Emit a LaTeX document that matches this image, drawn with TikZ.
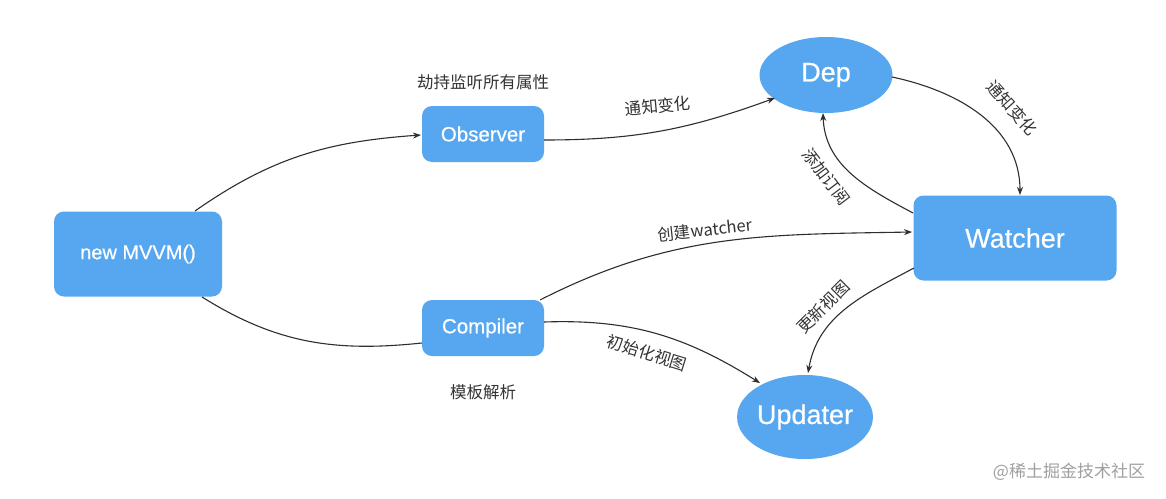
\documentclass[tikz,border=0pt]{standalone}
\usepackage{fontspec}
\setmainfont{Liberation Sans}
\newfontfamily\boxfont[FakeBold=0.6]{Liberation Sans}
\newfontfamily\cjk{Noto Sans CJK SC}
\usetikzlibrary{arrows.meta,shapes.geometric}
\definecolor{nodeblue}{HTML}{56A7EF}
\definecolor{edgegray}{HTML}{2E2E2E}
\definecolor{wmgray}{HTML}{A0A0A0}
\begin{document}
\begin{tikzpicture}[x=1pt,y=-1pt,
  boxnode/.style={draw=none,fill=nodeblue,rounded corners=10pt,text=white,inner sep=0pt},
  smallbox/.style={boxnode,minimum width=122pt,minimum height=56pt,font=\boxfont\fontsize{20.5}{24}\selectfont},
  ellnode/.style={ellipse,fill=nodeblue,text=white,inner sep=0pt,font=\boxfont\fontsize{27}{30}\selectfont},
  conn/.style={draw=edgegray,line width=1.1pt,-{Stealth[length=8pt,width=6pt]}},
  plainconn/.style={draw=edgegray,line width=1.1pt},
  lbl/.style={font=\cjk\fontsize{16.5}{19}\selectfont,text=black!80,inner sep=0pt},
]
\useasboundingbox (0,0) rectangle (1166,498);
\fill[white] (0,0) rectangle (1166,498);
% nodes
\node[boxnode,minimum width=168pt,minimum height=85pt,font=\boxfont\fontsize{20}{24}\selectfont] (mvvm) at (138,254) {new MVVM()};
\node[smallbox] (obs) at (483,134) {Observer};
\node[smallbox] (comp) at (483,328) {Compiler};
\node[boxnode,minimum width=203pt,minimum height=85pt,font=\boxfont\fontsize{27}{30}\selectfont] (watch) at (1015,238) {Watcher};
\node[ellnode,minimum width=133pt,minimum height=76pt] (dep) at (826,75) {Dep};
\node[ellnode,minimum width=134pt,minimum height=84pt] (upd) at (805,417) {Updater};
% anchor coordinates
\coordinate (mvvmT) at (195,211);
\coordinate (mvvmB) at (202,297);
\coordinate (obsL) at (421,135);
\coordinate (obsR) at (544,140);
\coordinate (compL) at (422,343);
\coordinate (compTR) at (540,300);
\coordinate (compR) at (544,322);
\coordinate (depBL) at (775,98);
\coordinate (depR) at (892,77);
\coordinate (depB) at (823,113);
\coordinate (watchT) at (1020,195);
\coordinate (watchTL) at (913,213);
\coordinate (watchL) at (912,232);
\coordinate (watchBL) at (914,268);
\coordinate (updTL) at (760,383);
\coordinate (updT) at (808,373);
% connectors
\draw[conn] (mvvmT) to[out=35,in=184] (obsL);
\draw[plainconn] (mvvmB) to[out=-32,in=186] (compL);
\draw[conn] (obsR) to[out=0,in=200] (depBL);
\draw[conn] (depR) to[out=-12,in=90] (watchT);
\draw[conn] (watchTL) to[out=152,in=272] (depB);
\draw[conn] (compTR) to[out=27,in=181] (watchL);
\draw[conn] (compR) to[out=2,in=148] (updTL);
\draw[conn] (watchBL) to[out=208,in=80] (updT);
% labels
\node[lbl] (l1) at (483,82) {劫持监听所有属性};
\node[lbl,rotate=5] (l2) at (658,106) {通知变化};
\node[lbl,rotate=-48] (l3) at (1012,108) {通知变化};
\node[lbl,rotate=-53] (l4) at (826,177) {添加订阅};
\node[lbl,rotate=6] (l5) at (705,230) {创建watcher};
\node[lbl,rotate=-17] (l6) at (647,353) {初始化视图};
\node[lbl] (l7) at (483,392) {模板解析};
\node[lbl,rotate=45] (l8) at (823,307) {更新视图};
\node[font=\cjk\fontsize{17}{20}\selectfont,text=wmgray,inner sep=0pt] (wm) at (1069,472) {@稀土掘金技术社区};
\end{tikzpicture}
\end{document}
